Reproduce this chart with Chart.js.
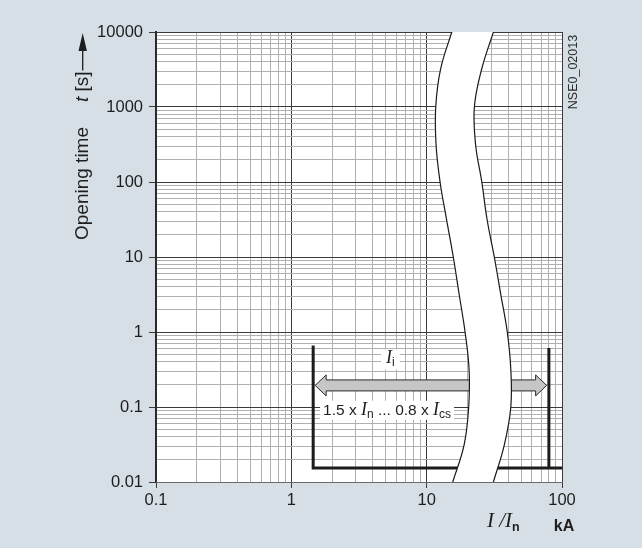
<!DOCTYPE html>
<html><head><meta charset="utf-8">
<script src="https://cdn.jsdelivr.net/npm/chart.js@4/dist/chart.umd.min.js"></script>
<style>html,body{margin:0;padding:0;background:#d5dfe5;}canvas{display:block;}</style>
</head><body>
<canvas id="c" width="642" height="548"></canvas>
<script>
// ---- data ----
const xTickLabels = ['0.1', '1', '10', '100'];
const yTickLabels = ['0.01', '0.1', '1', '10', '100', '1000', '10000'];
// tripping band (time t in s, current I/In at left and right edge)
const bandTime  = [31623, 10000, 3162, 1000, 316, 100, 31.6, 10, 3.16, 1, 0.316, 0.1, 0.0316, 0.01, 0.00316];
const bandLeft  = [18.6, 15.33, 12.65, 11.67, 11.73, 12.56, 14.03, 15.73, 17.39, 19.22, 20.58, 20.44, 18.93, 15.59, 12.84];
const bandRight = [38.0, 31.12, 25.45, 22.52, 22.98, 25.55, 27.95, 31.60, 35.29, 39.42, 41.85, 41.85, 37.52, 31.12, 25.8];
// setting range Ii
const rangeX = [1.45, 80];
const rangeTop = [0.66, 0.61];
const rangeBottom = 0.0154;
const rangeEndX = 100;
const arrowX = [1.5, 77];
const arrowY = 0.194;
const labelIi = {x: 5.55, y: 0.458};
const labelRange = {x: 1.63, y: 0.0918};

// ---- helpers ----
const SANS = '"Liberation Sans", Arial, sans-serif';
const SERIF = '"Liberation Serif", "Times New Roman", serif';
const isMajor = v => Math.abs(Math.log10(v) - Math.round(Math.log10(v))) < 1e-9;
function logTicks(min, max) {
  const out = [];
  for (let e = Math.round(Math.log10(min)); e < Math.round(Math.log10(max)); e++) {
    for (let m = 1; m <= 9; m++) out.push(m * Math.pow(10, e));
  }
  out.push(max);
  return out.map(v => ({value: v}));
}
const leftPts = bandTime.map((t, i) => ({x: bandLeft[i], y: t}));
const rightPts = bandTime.map((t, i) => ({x: bandRight[i], y: t}));
const shapePts = leftPts.concat(rightPts.slice().reverse());

function drawRich(ctx, parts, x, y, box) {
  let w = 0;
  parts.forEach(p => { ctx.font = p.font; p.w = ctx.measureText(p.t).width; w += p.w; });
  if (box) {
    ctx.fillStyle = '#ffffff';
    ctx.fillRect(x - box[0], y - box[1], w + 2 * box[0], box[1] + box[2]);
  }
  ctx.fillStyle = '#1e1e1e';
  ctx.textBaseline = 'alphabetic';
  ctx.textAlign = 'left';
  let cx = x;
  parts.forEach(p => { ctx.font = p.font; ctx.fillText(p.t, cx, y + (p.dy || 0)); cx += p.w; });
  return w;
}

const annot = {
  id: 'annot',
  beforeDraw(chart) {
    const {ctx, chartArea: a} = chart;
    ctx.save();
    ctx.fillStyle = '#d5dfe5';
    ctx.fillRect(0, 0, chart.width, chart.height);
    ctx.fillStyle = '#ffffff';
    ctx.fillRect(a.left, a.top, a.right - a.left, a.bottom - a.top);
    ctx.restore();
  },
  beforeDatasetsDraw(chart) {
    const {ctx, scales: {x, y}} = chart;
    const x1 = x.getPixelForValue(arrowX[0]), x2 = x.getPixelForValue(arrowX[1]);
    const yc = y.getPixelForValue(arrowY);
    const sh = 5.5, hh = 10.5, hl = 11;
    ctx.save();
    ctx.beginPath();
    ctx.moveTo(x1, yc);
    ctx.lineTo(x1 + hl, yc - hh); ctx.lineTo(x1 + hl, yc - sh);
    ctx.lineTo(x2 - hl, yc - sh); ctx.lineTo(x2 - hl, yc - hh);
    ctx.lineTo(x2, yc);
    ctx.lineTo(x2 - hl, yc + hh); ctx.lineTo(x2 - hl, yc + sh);
    ctx.lineTo(x1 + hl, yc + sh); ctx.lineTo(x1 + hl, yc + hh);
    ctx.closePath();
    ctx.fillStyle = '#c6c6c6';
    ctx.fill();
    ctx.strokeStyle = '#2a2a2a';
    ctx.lineWidth = 1;
    ctx.stroke();
    ctx.restore();
  },
  afterDatasetsDraw(chart) {
    const {ctx, scales: {x, y}} = chart;
    ctx.save();
    drawRich(ctx, [
      {t: 'I', font: 'italic 18px ' + SERIF},
      {t: 'i', font: '12px ' + SANS, dy: 3}
    ], x.getPixelForValue(labelIi.x) - 6, y.getPixelForValue(labelIi.y) + 6, [5, 14, 6]);
    drawRich(ctx, [
      {t: '1.5 x ', font: '15.5px ' + SANS},
      {t: 'I', font: 'italic 18px ' + SERIF},
      {t: 'n', font: '12px ' + SANS, dy: 3},
      {t: ' ... 0.8 x ', font: '15.5px ' + SANS},
      {t: 'I', font: 'italic 18px ' + SERIF},
      {t: 'cs', font: '12px ' + SANS, dy: 3}
    ], x.getPixelForValue(labelRange.x) + 3, y.getPixelForValue(labelRange.y) + 5, [3, 14, 5]);
    ctx.restore();
  },
  afterDraw(chart) {
    const {ctx} = chart;
    ctx.save();
    // y axis title (rotated)
    ctx.translate(87.5, 240);
    ctx.rotate(-Math.PI / 2);
    ctx.fillStyle = '#1e1e1e';
    ctx.textBaseline = 'alphabetic';
    ctx.textAlign = 'left';
    ctx.font = '19px ' + SANS;
    ctx.fillText('Opening time', 0, 0);
    ctx.font = 'italic 19px ' + SANS;
    ctx.fillText('t', 138, 0);
    const tw = ctx.measureText('t').width;
    ctx.font = '19px ' + SANS;
    ctx.fillText(' [s]', 138 + tw, 0);
    const endU = 138 + tw + ctx.measureText(' [s]').width;
    ctx.strokeStyle = '#1e1e1e';
    ctx.lineWidth = 1.3;
    ctx.beginPath();
    ctx.moveTo(endU + 1, -4.8);
    ctx.lineTo(190, -4.8);
    ctx.stroke();
    ctx.beginPath();
    ctx.moveTo(207, -4.8);
    ctx.lineTo(189, -9);
    ctx.lineTo(189, -0.6);
    ctx.closePath();
    ctx.fillStyle = '#1e1e1e';
    ctx.fill();
    ctx.restore();

    // code label
    ctx.save();
    ctx.translate(577, 72);
    ctx.rotate(-Math.PI / 2);
    ctx.fillStyle = '#2a2a2a';
    ctx.font = '12.5px ' + SANS;
    ctx.textAlign = 'center';
    ctx.textBaseline = 'alphabetic';
    ctx.fillText('NSE0_02013', 0, 0);
    ctx.restore();

    // x axis title
    ctx.save();
    drawRich(ctx, [
      {t: 'I', font: 'italic 21px ' + SERIF},
      {t: ' /', font: 'italic 21px ' + SERIF},
      {t: 'I', font: 'italic 21px ' + SERIF},
      {t: 'n', font: 'bold 12.5px ' + SANS, dy: 4}
    ], 487, 527, null);
    ctx.font = 'bold 16px ' + SANS;
    ctx.textAlign = 'center';
    ctx.fillStyle = '#1e1e1e';
    ctx.fillText('kA', 564, 531);
    ctx.restore();
  }
};

const lineBase = {showLine: true, pointRadius: 0, pointHoverRadius: 0, fill: false};

new Chart(document.getElementById('c'), {
  type: 'scatter',
  data: {
    datasets: [
      Object.assign({}, lineBase, {label: 'left edge', data: leftPts, borderColor: '#1a1a1a', borderWidth: 1.2, tension: 0.4}),
      Object.assign({}, lineBase, {label: 'right edge', data: rightPts, borderColor: '#1a1a1a', borderWidth: 1.2, tension: 0.4}),
      Object.assign({}, lineBase, {label: 'band', data: shapePts, borderWidth: 0, borderColor: 'rgba(0,0,0,0)', backgroundColor: '#ffffff', fill: 'shape', tension: 0.4}),
      Object.assign({}, lineBase, {label: 'range low', data: [{x: rangeX[0], y: rangeTop[0]}, {x: rangeX[0], y: rangeBottom}, {x: rangeEndX, y: rangeBottom}], borderColor: '#1c1c1c', borderWidth: 3, borderJoinStyle: 'miter', tension: 0}),
      Object.assign({}, lineBase, {label: 'range high', data: [{x: rangeX[1], y: rangeTop[1]}, {x: rangeX[1], y: rangeBottom}], borderColor: '#1c1c1c', borderWidth: 3, tension: 0})
    ]
  },
  options: {
    responsive: false,
    animation: false,
    devicePixelRatio: 1,
    layout: {padding: {left: 0, right: 80, top: 32, bottom: 0}},
    plugins: {legend: {display: false}, tooltip: {enabled: false}},
    events: [],
    scales: {
      x: {
        type: 'logarithmic', min: 0.1, max: 100,
        afterBuildTicks: s => { s.ticks = logTicks(0.1, 100); },
        afterFit: s => { s.height = 66; },
        ticks: {
          autoSkip: false, maxRotation: 0, padding: 3,
          color: '#1e1e1e', font: {size: 16.5, family: SANS},
          callback: v => isMajor(v) ? xTickLabels[Math.round(Math.log10(v)) + 1] : ''
        },
        grid: {
          color: c => isMajor(c.tick.value) ? '#3a3a3a' : '#b0b0b0',
          lineWidth: 1,
          tickLength: 6,
          tickColor: c => isMajor(c.tick.value) ? '#3a3a3a' : 'rgba(0,0,0,0)'
        },
        border: {display: true, color: '#6a6a6a', width: 1, z: 1}
      },
      y: {
        type: 'logarithmic', min: 0.01, max: 10000,
        afterBuildTicks: s => { s.ticks = logTicks(0.01, 10000); },
        afterFit: s => { s.width = 156; },
        ticks: {
          autoSkip: false, padding: 6,
          color: '#1e1e1e', font: {size: 16.5, family: SANS},
          callback: v => isMajor(v) ? yTickLabels[Math.round(Math.log10(v)) + 2] : ''
        },
        grid: {
          color: c => isMajor(c.tick.value) ? '#3a3a3a' : '#b0b0b0',
          lineWidth: 1,
          tickLength: 7,
          tickColor: c => isMajor(c.tick.value) ? '#3a3a3a' : 'rgba(0,0,0,0)'
        },
        border: {display: true, color: '#2a2a2a', width: 2}
      }
    }
  },
  plugins: [annot]
});
</script>
</body></html>
